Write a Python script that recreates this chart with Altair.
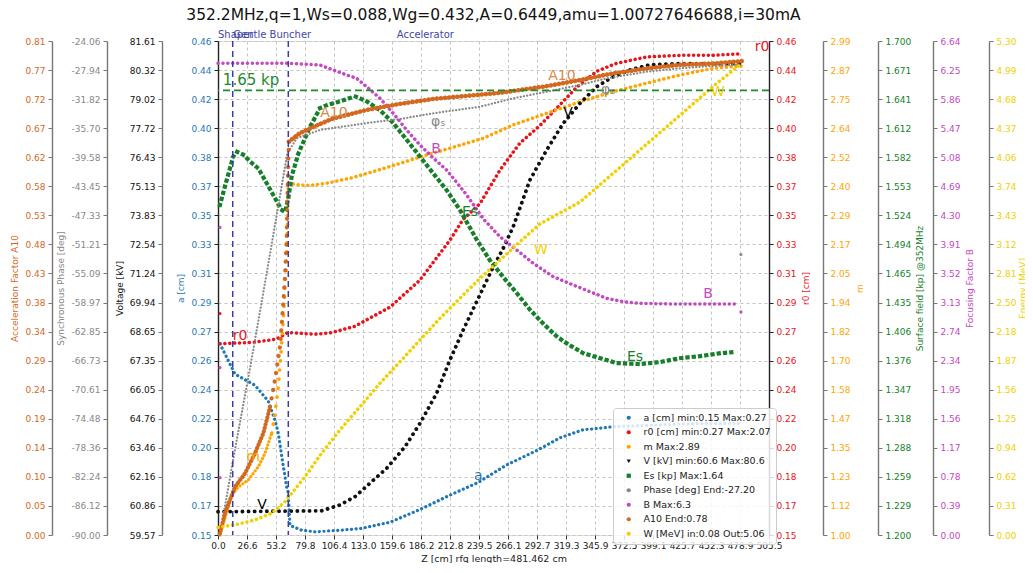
import altair as alt
import pandas as pd

TITLE = "352.2MHz,q=1,Ws=0.088,Wg=0.432,A=0.6449,amu=1.00727646688,i=30mA"
Z_MAX = 505.535

x_tick_labels = ["0.0", "26.6", "53.2", "79.8", "106.4", "133.0", "159.6", "186.2", "212.8", "239.5",
                 "266.1", "292.7", "319.3", "345.9", "372.5", "399.1", "425.7", "452.3", "478.9", "505.5"]

# y tick labels, bottom to top
a10_ticks = ["0.00", "0.05", "0.10", "0.14", "0.19", "0.24", "0.29", "0.34", "0.38", "0.43", "0.48", "0.53",
             "0.58", "0.62", "0.67", "0.72", "0.77", "0.81"]
phase_ticks = ["-90.00", "-86.12", "-82.24", "-78.36", "-74.48", "-70.61", "-66.73", "-62.85", "-58.97",
               "-55.09", "-51.21", "-47.33", "-43.45", "-39.58", "-35.70", "-31.82", "-27.94", "-24.06"]
v_ticks = ["59.57", "60.86", "62.16", "63.46", "64.76", "66.05", "67.35", "68.65", "69.94", "71.24", "72.54",
           "73.83", "75.13", "76.43", "77.72", "79.02", "80.32", "81.61"]
a_ticks = ["0.15", "0.17", "0.18", "0.20", "0.22", "0.24", "0.26", "0.27", "0.29", "0.31", "0.33", "0.35",
           "0.37", "0.38", "0.40", "0.42", "0.44", "0.46"]
r0_ticks = list(a_ticks)
m_ticks = ["1.00", "1.12", "1.23", "1.35", "1.47", "1.58", "1.70", "1.82", "1.94", "2.05", "2.17", "2.29",
           "2.40", "2.52", "2.64", "2.75", "2.87", "2.99"]
es_ticks = ["1.200", "1.229", "1.259", "1.288", "1.318", "1.347", "1.376", "1.406", "1.435", "1.465", "1.494",
            "1.524", "1.553", "1.582", "1.612", "1.641", "1.671", "1.700"]
b_ticks = ["0.00", "0.39", "0.78", "1.17", "1.56", "1.95", "2.34", "2.74", "3.13", "3.52", "3.91", "4.30",
           "4.69", "5.08", "5.47", "5.86", "6.25", "6.64"]
w_ticks = ["0.00", "0.31", "0.62", "0.94", "1.25", "1.56", "1.87", "2.18", "2.50", "2.81", "3.12", "3.43",
           "3.74", "4.06", "4.37", "4.68", "4.99", "5.30"]

# ---- series data (z in cm) ----
a_z = [1.8, 15.6, 33.9, 46.1, 52.3, 55.3, 59.0, 63.0, 64.2, 66.1, 76.8, 89.0, 111.9, 130.3, 157.8, 185.3,
       212.8, 238.8, 264.9, 292.4, 313.8, 334.9, 350.5, 362.4, 400.0, 442.0, 479.0]
a_v = [0.270, 0.251, 0.244, 0.234, 0.222, 0.214, 0.197, 0.180, 0.178, 0.156, 0.153, 0.152, 0.153, 0.154,
       0.158, 0.166, 0.175, 0.183, 0.194, 0.203, 0.211, 0.216, 0.217, 0.218, 0.219, 0.220, 0.220]

r0_z = [1.8, 33.9, 53.9, 63.9, 66.1, 89.0, 104.3, 125.7, 157.8, 185.3, 212.8, 224.8, 240.4, 258.7, 277.1,
        295.4, 313.8, 329.1, 347.4, 365.8, 393.3, 423.9, 454.1, 478.9]
r0_v = [0.270, 0.271, 0.273, 0.277, 0.277, 0.276, 0.277, 0.281, 0.293, 0.310, 0.335, 0.348, 0.358, 0.379,
        0.396, 0.407, 0.420, 0.431, 0.441, 0.446, 0.450, 0.451, 0.451, 0.452]

m_z = [1.8, 12.6, 18.6, 27.8, 37.0, 43.1, 49.3, 52.3, 55.3, 57.8, 59.9, 61.5, 63.0, 63.8, 64.2, 64.5, 75.2,
       84.4, 99.7, 121.1, 142.5, 167.0, 191.5, 212.8, 243.4, 270.9, 301.6, 332.1, 362.7, 393.3, 423.9, 454.4,
       480.5]
m_v = [1.000, 1.161, 1.193, 1.222, 1.275, 1.329, 1.410, 1.490, 1.597, 1.732, 1.866, 2.000, 2.135, 2.269,
       2.370, 2.417, 2.410, 2.408, 2.417, 2.437, 2.464, 2.497, 2.531, 2.558, 2.598, 2.652, 2.699, 2.745,
       2.786, 2.820, 2.853, 2.880, 2.890]

V_z = [0.0, 95.1, 111.9, 125.7, 139.4, 154.8, 171.6, 185.3, 200.6, 212.8, 225.0, 238.8, 251.1, 261.7, 270.9,
       286.2, 301.6, 316.8, 332.1, 347.4, 362.7, 378.0, 396.3, 423.9, 480.5]
V_v = [60.61, 60.65, 60.91, 61.28, 61.88, 62.55, 63.51, 64.55, 65.89, 67.38, 68.72, 70.13, 71.39, 72.36,
       73.33, 75.41, 76.75, 77.94, 78.83, 79.57, 80.02, 80.32, 80.55, 80.60, 80.60]

es_z = [1.8, 6.4, 14.0, 17.2, 23.2, 29.4, 37.0, 44.7, 52.3, 58.4, 61.5, 64.5, 67.6, 73.7, 84.4, 93.6, 99.7,
        115.0, 125.7, 136.4, 148.6, 160.8, 173.1, 185.3, 197.5, 209.8, 222.0, 237.3, 249.5, 261.7, 274.0,
        286.2, 298.4, 310.7, 319.9, 335.1, 350.5, 365.8, 387.2, 405.5, 423.9, 442.2, 460.6, 472.8]
es_v = [1.534, 1.553, 1.583, 1.588, 1.585, 1.578, 1.571, 1.556, 1.541, 1.529, 1.527, 1.541, 1.563, 1.586,
        1.613, 1.632, 1.635, 1.640, 1.644, 1.639, 1.630, 1.617, 1.600, 1.583, 1.566, 1.549, 1.529, 1.499,
        1.478, 1.461, 1.445, 1.428, 1.414, 1.401, 1.394, 1.384, 1.379, 1.374, 1.373, 1.375, 1.379, 1.381,
        1.384, 1.385]

ph_z = [1.8, 13.8, 29.4, 40.4, 52.3, 63.6, 72.2, 93.6, 136.4, 167.0, 197.5, 240.4, 270.9, 301.6, 332.1,
        356.6, 393.3, 423.9, 454.4, 480.5]
ph_v = [-90.0, -79.99, -67.71, -58.63, -48.62, -39.05, -37.05, -35.94, -35.01, -34.47, -33.71, -32.83,
        -31.71, -30.83, -29.93, -29.04, -28.16, -27.70, -27.40, -27.20]

b_z = [0.0, 66.1, 93.6, 105.8, 118.1, 127.2, 136.4, 148.6, 160.8, 173.1, 185.3, 197.5, 209.8, 228.2, 243.4,
       258.7, 274.0, 289.3, 307.6, 326.0, 341.3, 356.6, 371.8, 387.2, 417.7, 475.9]
b_v = [6.34, 6.34, 6.317, 6.250, 6.183, 6.139, 6.026, 5.870, 5.668, 5.443, 5.242, 5.067, 4.906, 4.570,
       4.249, 4.009, 3.831, 3.652, 3.472, 3.360, 3.270, 3.181, 3.136, 3.114, 3.105, 3.105]

a10_z = [1.8, 6.4, 15.6, 24.8, 33.9, 41.6, 47.7, 52.3, 56.9, 59.9, 61.5, 63.0, 63.8, 64.5, 65.1, 75.2, 93.6,
         105.8, 136.4, 167.0, 197.5, 228.2, 258.7, 301.6, 332.1, 362.7, 393.3, 423.9, 454.4, 480.5]
a10_v = [0.003, 0.036, 0.079, 0.101, 0.134, 0.167, 0.210, 0.254, 0.309, 0.380, 0.424, 0.484, 0.558, 0.615,
         0.645, 0.659, 0.674, 0.683, 0.697, 0.707, 0.715, 0.720, 0.725, 0.736, 0.746, 0.757, 0.765, 0.771,
         0.773, 0.777]

w_z = [0.0, 18.6, 33.9, 49.3, 61.5, 67.6, 79.8, 95.1, 111.9, 130.3, 148.6, 167.0, 185.3, 203.7, 222.0,
       240.4, 258.7, 277.1, 295.4, 332.1, 362.7, 393.3, 423.9, 454.4, 480.5]
w_v = [0.080, 0.118, 0.161, 0.233, 0.357, 0.447, 0.625, 0.877, 1.127, 1.377, 1.628, 1.859, 2.092, 2.325,
       2.540, 2.754, 2.950, 3.147, 3.337, 3.573, 3.882, 4.194, 4.504, 4.815, 5.060]

# stray single points (in a [cm] units)
stray_z = [1.8, 1.8, 1.8, 1.8, 479.8, 479.8, 478.9]
stray_v = [0.343, 0.255, 0.186, 0.289, 0.326, 0.290, 0.151]
stray_c = ["#c349c3", "#c349c3", "#c349c3", "#e8141c", "#888888", "#c349c3", "#d2691e"]

# in-plot annotations (in a [cm] units)
label_text = ["r0", "r0", "V", "V", "m", "W", "W", "B", "B", "Es", "Es", "A10", "A10", "φₛ", "φₛ", "a"]
label_z = [20.2, 499.1, 40.4, 321.1, 32.1, 296.3, 458.7, 200.0, 449.5, 231.2, 382.6, 106.4, 315.6, 202.0,
           358.1, 238.8]
label_v = [0.275, 0.456, 0.169, 0.415, 0.199, 0.329, 0.428, 0.392, 0.301, 0.353, 0.262, 0.415, 0.438, 0.409,
           0.429, 0.187]
label_c = ["#e8141c", "#e8141c", "black", "black", "#ffa500", "#f2cf00", "#f2cf00", "#c349c3", "#c349c3",
           "#157f2a", "#157f2a", "#d9884c", "#d9884c", "#888888", "#888888", "#1f77b4"]

section_text = ["Shaper", "Gentle Buncher", "Accelerator"]
section_z = [0.0, 14.0, 164.0]
section_v = [0.4638, 0.4638, 0.4638]
section_bounds = [13.5, 64.5]
es_limit = [1.65]
es_limit_text = ["1.65 kp"]
es_limit_z = [30.3]

legend_labels = ["a [cm] min:0.15 Max:0.27", "r0 [cm] min:0.27 Max:2.07", "m Max:2.89",
                 "V [kV] min:60.6 Max:80.6", "Es [kp] Max:1.64", "Phase [deg] End:-27.20", "B Max:6.3",
                 "A10  End:0.78", "W [MeV] in:0.08 Out:5.06"]

# ---- styling ----
# segs: (z from, z to, stroke width, dash) -- drawing style per stretch of z
series = [
    dict(key="a", z=a_z, v=a_v, ticks=a_ticks, color="#1f77b4", orient="left", offset=0, title="a [cm]",
         segs=[(0, 600, 3.2, [0.1, 4.5])], cap="round", grid=True, dom="#222", tp=5),
    dict(key="r0", z=r0_z, v=r0_v, ticks=r0_ticks, color="#e8141c", orient="right", offset=0, title="r0 [cm]",
         segs=[(0, 600, 3.5, [0.1, 4.8])], cap="round", grid=False, dom="#222", tp=5),
    dict(key="m", z=m_z, v=m_v, ticks=m_ticks, color="#ffa500", orient="right", offset=54, title="m",
         segs=[(0, 49.3, 3.2, [0.1, 3.5]), (49.3, 64.5, 3.6, [0.1, 9]), (64.5, 600, 3.5, [0.1, 4.8])],
         cap="round", grid=False, dom="#777", tp=5),
    dict(key="V", z=V_z, v=V_v, ticks=v_ticks, color="#111111", orient="left", offset=56, title="Voltage [kV]",
         segs=[(0, 600, 3.8, [0.1, 6.0])], cap="round", grid=False, dom="#777", tp=5),
    dict(key="Es", z=es_z, v=es_v, ticks=es_ticks, color="#157f2a", orient="right", offset=109,
         title="Surface field [kp] @352MHz", segs=[(0, 600, 4.2, [0.1, 6.2])], cap="square", grid=False,
         dom="#777", tp=5),
    dict(key="Phase", z=ph_z, v=ph_v, ticks=phase_ticks, color="#888888", orient="left", offset=111,
         title="Synchronous Phase [deg]", segs=[(0, 600, 2.2, [0.1, 3.2])], cap="round", grid=False,
         dom="#777", tp=5),
    dict(key="B", z=b_z, v=b_v, ticks=b_ticks, color="#c349c3", orient="right", offset=164,
         title="Focusing Factor B", segs=[(0, 600, 3.5, [0.1, 4.8])], cap="round", grid=False, dom="#777", tp=5),
    dict(key="A10", z=a10_z, v=a10_v, ticks=a10_ticks, color="#d2691e", orient="left", offset=166,
         title="Acceleration Factor A10",
         segs=[(0, 47.7, 4.2, [0.1, 3.5]), (47.7, 65.1, 4.2, [0.1, 8.5]), (65.1, 600, 4.6, [0.1, 4.0])],
         cap="round", grid=False, dom="#777", tp=5),
    dict(key="W", z=w_z, v=w_v, ticks=w_ticks, color="#f2cf00", orient="right", offset=220,
         title="Energy [MeV]", segs=[(0, 600, 3.5, [0.1, 4.8])], cap="round", grid=False, dom="#777", tp=2),
]
legend_colors = [s["color"] for s in series]
legend_shapes = ["circle", "circle", "circle", "triangle-down", "square", "circle", "circle", "circle", "circle"]

rows = []
for s, lab in zip(series, legend_labels):
    for i, (z, v) in enumerate(zip(s["z"], s["v"])):
        rows.append({"series": s["key"], "legend": lab, "z": z, "v": v, "i": i})
df = pd.DataFrame(rows)

FONT = "DejaVu Sans"
x_vals = [Z_MAX * i / (len(x_tick_labels) - 1) for i in range(len(x_tick_labels))]
x_expr = "[" + ",".join("'%s'" % t for t in x_tick_labels) + "][round(datum.value/%r)]" % (
    Z_MAX / (len(x_tick_labels) - 1))
xaxis = alt.Axis(values=x_vals, labelExpr=x_expr, title="Z [cm] rfq length=481.462 cm", grid=True,
                 gridDash=[3, 3], gridColor="#c4c4c4", domain=False, tickColor="#333", labelColor="#222",
                 labelFontSize=9, titleFontSize=9.5, titleFontWeight="normal", titleColor="#222", tickSize=4,
                 labelPadding=2, titlePadding=3, labelFont=FONT, titleFont=FONT, labelFlush=False)
X = alt.X("z:Q", scale=alt.Scale(domain=[0, Z_MAX], nice=False, zero=False), axis=xaxis)


def yaxis(s):
    t = s["ticks"]
    lo, hi = float(t[0]), float(t[-1])
    step = (hi - lo) / (len(t) - 1)
    vals = [lo + k * step for k in range(len(t))]
    expr = "[" + ",".join("'%s'" % x for x in t) + "][round((datum.value-(%r))/%r)]" % (lo, step)
    kw = dict(orient=s["orient"], offset=s["offset"], values=vals, labelExpr=expr, title=s["title"],
              titleColor=s["color"], labelColor=s["color"], domainColor=s["dom"], tickColor=s["dom"],
              domainWidth=1.4, grid=s["grid"], labelFontSize=9, titleFontSize=9, titleFontWeight="normal",
              tickSize=4, labelPadding=3, titlePadding=s["tp"], labelFont=FONT, titleFont=FONT)
    if s["grid"]:
        kw.update(gridDash=[3, 3], gridColor="#c4c4c4")
    if s["orient"] == "right":
        kw.update(titleAngle=270, titleBaseline="top")
    return alt.Axis(**kw), lo, hi


layers = []
for s in series:
    ax, lo, hi = yaxis(s)
    for (z0, z1, w, dash) in s["segs"]:
        layers.append(
            alt.Chart(df).transform_filter(
                (alt.datum.series == s["key"]) & (alt.datum.z >= z0) & (alt.datum.z <= z1)
            ).mark_line(
                color=s["color"], strokeWidth=w, strokeDash=dash, strokeCap=s["cap"]
            ).encode(
                x=X,
                y=alt.Y("v:Q", scale=alt.Scale(domain=[lo, hi], nice=False, zero=False), axis=ax),
                order="i:Q",
            )
        )
        ax = None

a_dom = [float(a_ticks[0]), float(a_ticks[-1])]

bounds_df = pd.DataFrame({"z": section_bounds})
layers.append(alt.Chart(bounds_df).mark_rule(color="#3a3aa8", strokeDash=[6, 4], strokeWidth=1.5).encode(x=X))

es_df = pd.DataFrame({"e": es_limit})
layers.append(alt.Chart(es_df).mark_rule(color="#1e8a2e", strokeDash=[7, 4], strokeWidth=1.6).encode(
    y=alt.Y("e:Q", scale=alt.Scale(domain=[float(es_ticks[0]), float(es_ticks[-1])], nice=False, zero=False),
            axis=None)))

es_txt_df = pd.DataFrame({"t": es_limit_text, "z": es_limit_z, "e": es_limit})
layers.append(alt.Chart(es_txt_df).mark_text(color="#1e8a2e", fontSize=15, dy=-10, font=FONT).encode(
    x=X, text="t:N",
    y=alt.Y("e:Q", scale=alt.Scale(domain=[float(es_ticks[0]), float(es_ticks[-1])], nice=False, zero=False),
            axis=None)))

stray_df = pd.DataFrame({"z": stray_z, "v": stray_v, "c": stray_c})
layers.append(alt.Chart(stray_df).mark_circle(size=10, opacity=1).encode(
    x=X, y=alt.Y("v:Q", scale=alt.Scale(domain=a_dom, nice=False, zero=False), axis=None),
    color=alt.Color("c:N", scale=None)))

lab_df = pd.DataFrame({"t": label_text, "z": label_z, "v": label_v, "c": label_c})
layers.append(alt.Chart(lab_df).mark_text(fontSize=14, font=FONT).encode(
    x=X, y=alt.Y("v:Q", scale=alt.Scale(domain=a_dom, nice=False, zero=False), axis=None),
    text="t:N", color=alt.Color("c:N", scale=None)))

sec_df = pd.DataFrame({"t": section_text, "z": section_z, "v": section_v})
layers.append(alt.Chart(sec_df).mark_text(fontSize=10, font=FONT, align="left", color="#4646a6").encode(
    x=X, y=alt.Y("v:Q", scale=alt.Scale(domain=a_dom, nice=False, zero=False), axis=None), text="t:N"))

leg = alt.Legend(orient="none", legendX=395, legendY=367, title=None, fillColor="rgba(255,255,255,0.82)",
                 strokeColor="#cccccc", cornerRadius=3, padding=5, labelFontSize=9.5, labelFont=FONT,
                 labelColor="#222", symbolSize=18, symbolOffset=6, labelOffset=10, rowPadding=3.5,
                 symbolOpacity=1, symbolStrokeWidth=0)
layers.append(alt.Chart(df).mark_point(filled=True, opacity=0).encode(
    x=X, y=alt.Y("v:Q", axis=None),
    color=alt.Color("legend:N", scale=alt.Scale(domain=legend_labels, range=legend_colors), legend=leg),
    shape=alt.Shape("legend:N", scale=alt.Scale(domain=legend_labels, range=legend_shapes), legend=leg),
))

chart = alt.layer(*layers).resolve_scale(y="independent").properties(
    width=551, height=494,
    title=alt.Title(TITLE, fontSize=15.5, fontWeight="normal", font=FONT, anchor="middle", frame="group",
                    offset=6, color="#111"),
    autosize=alt.AutoSizeParams(type="none"),
    padding={"left": 210, "top": 33, "right": 256, "bottom": 28},
).configure_view(stroke="#111", strokeWidth=1).configure(font=FONT)

chart.save("out.html", embed_options={"renderer": "svg", "actions": False})
